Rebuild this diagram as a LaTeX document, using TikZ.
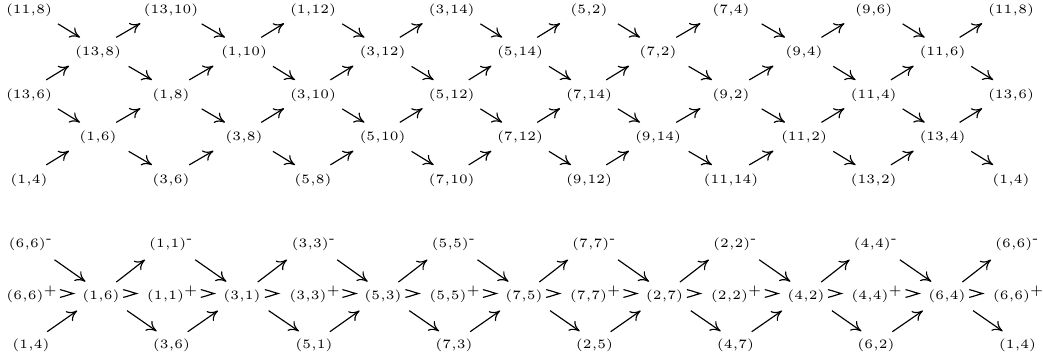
\documentclass[tikz,border=0pt]{standalone}
\usetikzlibrary{calc,arrows.meta}
\tikzset{
  lab/.style={inner sep=0pt, font=\fontsize{5}{6}\selectfont},
  arr/.style={line width=0.45pt, -{Computer Modern Rightarrow[length=3.9pt,width=4.6pt]}},
  hglyph/.pic={\draw[line width=0.45pt,line cap=round] (-6.5,-3.8) .. controls (-2,-2.8) and (2.5,-1) .. (6.5,0) .. controls (2.5,1) and (-2,2.8) .. (-6.5,3.8);}
}
\newcommand\mytdn[2]{\draw[arr] ($(#1.center)!0.42!(#2.center)+(0,-4)$) -- ($(#1.center)!0.74!(#2.center)+(0,-4)$);}
\newcommand\mytup[2]{\draw[arr] ($(#1.center)!0.25!(#2.center)+(0,-4.5)$) -- ($(#1.center)!0.58!(#2.center)+(0,-4.5)$);}
\newcommand\mybdn[2]{\draw[arr] ($(#1.center)!0.37!(#2.center)+(0,-3.5)$) -- ($(#1.center)!0.79!(#2.center)+(0,-3.5)$);}
\newcommand\mybup[2]{\draw[arr] ($(#1.center)!0.23!(#2.center)+(0,-2)$) -- ($(#1.center)!0.66!(#2.center)+(0,-2)$);}
\newcommand\myhgl[3]{\path ($(#1.center)!#3!(#2.center)+(0,-2.5)$) pic{hglyph};}
\newcommand\plusup{\rlap{\smash{$^{+}$}}}
\newcommand\minusup{\rlap{\smash{$^{\mbox{-}}$}}}
\newcommand\pr[2]{$(#1{,}#2)$}
\begin{document}
\begin{tikzpicture}[x=0.39pt,y=-0.39pt]
\useasboundingbox (0,0) rectangle (1043,360);
% ---------- upper mesh ----------
\node[lab] (p0r0) at (29,10) {\pr{11}{8}};
\node[lab] (p0r2) at (29,95) {\pr{13}{6}};
\node[lab] (p0r4) at (29,180) {\pr{1}{4}};
\node[lab] (p1r1) at (98,52.5) {\pr{13}{8}};
\node[lab] (p1r3) at (98,137.5) {\pr{1}{6}};
\node[lab] (p2r0) at (171,10) {\pr{13}{10}};
\node[lab] (p2r2) at (171,95) {\pr{1}{8}};
\node[lab] (p2r4) at (171,180) {\pr{3}{6}};
\node[lab] (p3r1) at (244,52.5) {\pr{1}{10}};
\node[lab] (p3r3) at (244,137.5) {\pr{3}{8}};
\node[lab] (p4r0) at (313,10) {\pr{1}{12}};
\node[lab] (p4r2) at (313,95) {\pr{3}{10}};
\node[lab] (p4r4) at (313,180) {\pr{5}{8}};
\node[lab] (p5r1) at (382.5,52.5) {\pr{3}{12}};
\node[lab] (p5r3) at (382.5,137.5) {\pr{5}{10}};
\node[lab] (p6r0) at (451.7,10) {\pr{3}{14}};
\node[lab] (p6r2) at (451.7,95) {\pr{5}{12}};
\node[lab] (p6r4) at (451.7,180) {\pr{7}{10}};
\node[lab] (p7r1) at (520,52.5) {\pr{5}{14}};
\node[lab] (p7r3) at (520,137.5) {\pr{7}{12}};
\node[lab] (p8r0) at (589,10) {\pr{5}{2}};
\node[lab] (p8r2) at (589,95) {\pr{7}{14}};
\node[lab] (p8r4) at (589,180) {\pr{9}{12}};
\node[lab] (p9r1) at (658,52.5) {\pr{7}{2}};
\node[lab] (p9r3) at (658,137.5) {\pr{9}{14}};
\node[lab] (p10r0) at (731,10) {\pr{7}{4}};
\node[lab] (p10r2) at (731,95) {\pr{9}{2}};
\node[lab] (p10r4) at (731,180) {\pr{11}{14}};
\node[lab] (p11r1) at (804,52.5) {\pr{9}{4}};
\node[lab] (p11r3) at (804,137.5) {\pr{11}{2}};
\node[lab] (p12r0) at (873.7,10) {\pr{9}{6}};
\node[lab] (p12r2) at (873.7,95) {\pr{11}{4}};
\node[lab] (p12r4) at (873.7,180) {\pr{13}{2}};
\node[lab] (p13r1) at (942.5,52.5) {\pr{11}{6}};
\node[lab] (p13r3) at (942.5,137.5) {\pr{13}{4}};
\node[lab] (p14r0) at (1011,10) {\pr{11}{8}};
\node[lab] (p14r2) at (1011,95) {\pr{13}{6}};
\node[lab] (p14r4) at (1011,180) {\pr{1}{4}};
\foreach \c in {0,2,...,12}{
  \pgfmathtruncatemacro\d{\c+1}
  \mytdn{p\c r0}{p\d r1}
  \mytup{p\c r2}{p\d r1}
  \mytdn{p\c r2}{p\d r3}
  \mytup{p\c r4}{p\d r3}
}
\foreach \c in {1,3,...,13}{
  \pgfmathtruncatemacro\d{\c+1}
  \mytup{p\c r1}{p\d r0}
  \mytdn{p\c r1}{p\d r2}
  \mytup{p\c r3}{p\d r2}
  \mytdn{p\c r3}{p\d r4}
}
% ---------- lower mesh ----------
\node[lab] (q0t) at (27.2,244) {\pr{6}{6}\minusup};
\node[lab] (q0m) at (25,296) {\pr{6}{6}\plusup};
\node[lab] (q0b) at (31,345) {\pr{1}{4}};
\node[lab] (q1m) at (101,296) {\pr{1}{6}};
\node[lab] (q2t) at (167.7,244) {\pr{1}{1}\minusup};
\node[lab] (q2m) at (165.5,296) {\pr{1}{1}\plusup};
\node[lab] (q2b) at (171.5,345) {\pr{3}{6}};
\node[lab] (q3m) at (242,296) {\pr{3}{1}};
\node[lab] (q4t) at (310.2,244) {\pr{3}{3}\minusup};
\node[lab] (q4m) at (308,296) {\pr{3}{3}\plusup};
\node[lab] (q4b) at (314,345) {\pr{5}{1}};
\node[lab] (q5m) at (383,296) {\pr{5}{3}};
\node[lab] (q6t) at (450.2,244) {\pr{5}{5}\minusup};
\node[lab] (q6m) at (448,296) {\pr{5}{5}\plusup};
\node[lab] (q6b) at (454,345) {\pr{7}{3}};
\node[lab] (q7m) at (524,296) {\pr{7}{5}};
\node[lab] (q8t) at (590.7,244) {\pr{7}{7}\minusup};
\node[lab] (q8m) at (588.5,296) {\pr{7}{7}\plusup};
\node[lab] (q8b) at (594.5,345) {\pr{2}{5}};
\node[lab] (q9m) at (664.5,296) {\pr{2}{7}};
\node[lab] (q10t) at (731.7,244) {\pr{2}{2}\minusup};
\node[lab] (q10m) at (729.5,296) {\pr{2}{2}\plusup};
\node[lab] (q10b) at (735.5,345) {\pr{4}{7}};
\node[lab] (q11m) at (806,296) {\pr{4}{2}};
\node[lab] (q12t) at (872.2,244) {\pr{4}{4}\minusup};
\node[lab] (q12m) at (870,296) {\pr{4}{4}\plusup};
\node[lab] (q12b) at (876,345) {\pr{6}{2}};
\node[lab] (q13m) at (947,296) {\pr{6}{4}};
\node[lab] (q14t) at (1013.7,244) {\pr{6}{6}\minusup};
\node[lab] (q14m) at (1011.5,296) {\pr{6}{6}\plusup};
\node[lab] (q14b) at (1017.5,345) {\pr{1}{4}};
\foreach \c in {0,2,...,12}{
  \pgfmathtruncatemacro\d{\c+1}
  \mybdn{q\c t}{q\d m}
  \mybup{q\c b}{q\d m}
  \myhgl{q\c m}{q\d m}{0.55}
}
\foreach \c in {1,3,...,13}{
  \pgfmathtruncatemacro\d{\c+1}
  \mybup{q\c m}{q\d t}
  \mybdn{q\c m}{q\d b}
  \myhgl{q\c m}{q\d m}{0.45}
}
\end{tikzpicture}
\end{document}
